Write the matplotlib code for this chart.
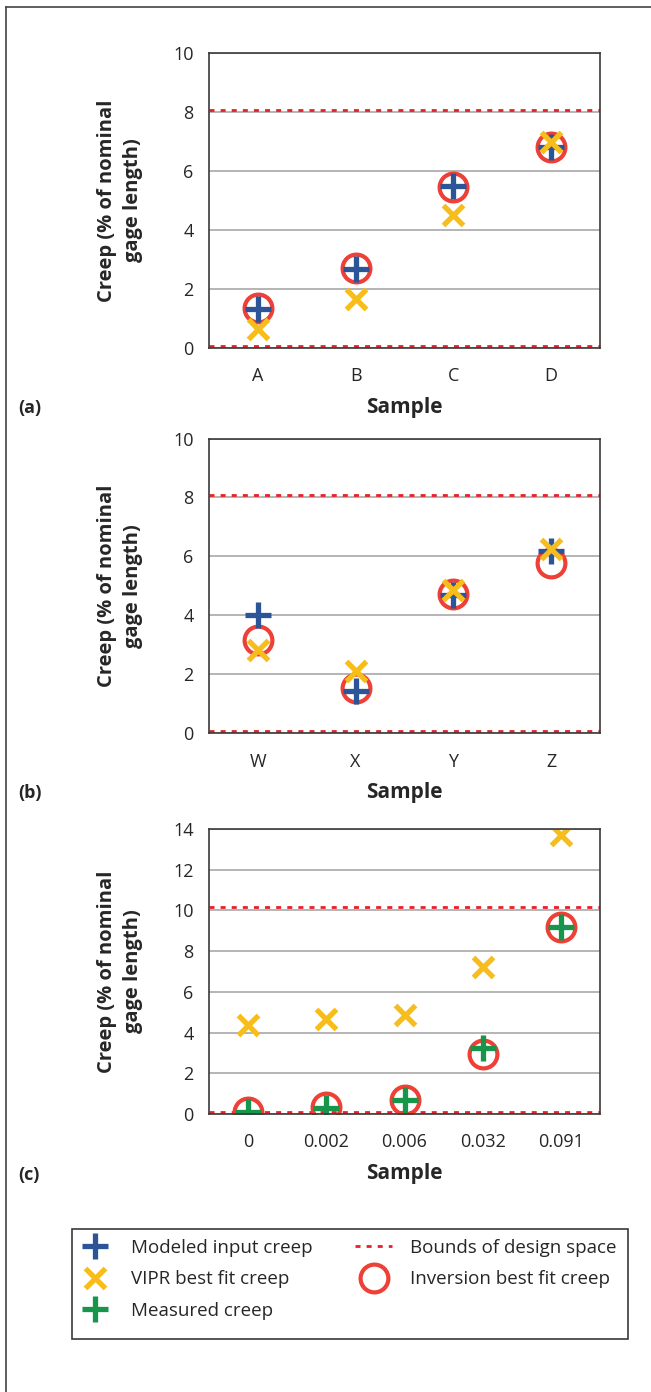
import matplotlib
matplotlib.use("Agg")
import matplotlib.pyplot as plt
from matplotlib.lines import Line2D
from matplotlib.patches import Rectangle

plt.rcParams['font.family'] = ['Open Sans', 'DejaVu Sans']

# ---------------- data ----------------
cats_a = ["A", "B", "C", "D"]
modeled_a = [1.33, 2.68, 5.48, 6.80]
vipr_a = [0.65, 1.67, 4.50, 7.00]
inversion_a = [1.36, 2.71, 5.46, 6.81]
bounds_a = [0.08, 8.08]

cats_b = ["W", "X", "Y", "Z"]
modeled_b = [4.00, 1.45, 4.70, 6.20]
vipr_b = [2.83, 2.12, 4.87, 6.26]
inversion_b = [3.15, 1.53, 4.73, 5.78]
bounds_b = [0.08, 8.08]

cats_c = ["0", "0.002", "0.006", "0.032", "0.091"]
measured_c = [0.10, 0.30, 0.70, 3.25, 9.20]
vipr_c = [4.39, 4.67, 4.87, 7.20, 13.69]
inversion_c = [0.11, 0.33, 0.69, 2.95, 9.20]
bounds_c = [0.08, 10.15]

# ---------------- styles ----------------
BLUE = '#2C5597'
YELLOW = '#F6BD1C'
GREEN = '#17954A'
RED_C = '#EE4036'
RED_D = '#E8202A'
GRID = '#A8A8A8'
TXT = '#262626'
SPINE = '#3A3A3A'

W, H = 651, 1392
fig = plt.figure(figsize=(W / 100, H / 100), dpi=100)

def add_axes(top_px, bottom_px):
    left, right = 209, 600
    return fig.add_axes([left / W, 1 - bottom_px / H, (right - left) / W, (bottom_px - top_px) / H])

circle_kw = dict(marker='o', ms=20, mfc='none', mec=RED_C, mew=3.0, ls='none', zorder=3)
plus_kw = dict(marker='+', ms=19, mew=3.8, ls='none', zorder=4)
x_kw = dict(marker='x', ms=15, mec=YELLOW, mew=3.8, ls='none', zorder=5)
dash_kw = dict(color=RED_D, lw=2.0, ls=(0, (1.8, 2.2)), zorder=2)

def style(ax, cats, ymax, axh_px, bounds):
    n = len(cats)
    ax.set_xlim(-0.5, n - 0.5)
    ax.set_ylim(0, ymax)
    ax.set_xticks(range(n))
    ax.set_xticklabels(cats)
    ax.set_yticks(range(0, ymax + 1, 2))
    ax.tick_params(axis='both', length=0, labelsize=13, colors=TXT)
    ax.tick_params(axis='y', pad=11)
    ax.tick_params(axis='x', pad=14)
    ax.grid(axis='y', color=GRID, lw=1.2, zorder=0)
    ax.set_axisbelow(True)
    for s in ax.spines.values():
        s.set_color(SPINE)
        s.set_linewidth(1.2)
        s.set_zorder(6)
    for b in bounds:
        ax.axhline(b, **dash_kw)
    ax.set_ylabel("Creep (% of nominal\ngage length)", fontsize=14.5, fontweight='bold',
                  color=TXT, linespacing=1.4)
    ax.yaxis.set_label_coords(-0.169, 0.5)
    ax.set_xlabel("Sample", fontsize=15, fontweight='bold', color=TXT, va='top')
    ax.xaxis.set_label_coords(0.5, -49 / axh_px)

# panel (a)
ax1 = add_axes(53, 348)
x = range(len(cats_a))
ax1.plot(x, inversion_a, **circle_kw)
ax1.plot(x, modeled_a, mec=BLUE, **plus_kw)
ax1.plot(x, vipr_a, **x_kw)
style(ax1, cats_a, 10, 295, bounds_a)

# panel (b)
ax2 = add_axes(438.5, 733.3)
x = range(len(cats_b))
ax2.plot(x, inversion_b, **circle_kw)
ax2.plot(x, modeled_b, mec=BLUE, **plus_kw)
ax2.plot(x, vipr_b, **x_kw)
style(ax2, cats_b, 10, 295, bounds_b)

# panel (c)
ax3 = add_axes(829, 1114)
x = range(len(cats_c))
ax3.plot(x, inversion_c, **circle_kw)
ax3.plot(x, measured_c, mec=GREEN, **plus_kw)
ax3.plot(x, vipr_c, **x_kw)
style(ax3, cats_c, 14, 285, bounds_c)

# panel letters
for lab, ypx in [("(a)", 408), ("(b)", 793), ("(c)", 1175)]:
    fig.text(18 / W, 1 - ypx / H, lab, fontsize=13, fontweight='bold', color=TXT,
             ha='left', va='center')

# legend
handles = [
    Line2D([], [], mec=BLUE, **plus_kw),
    Line2D([], [], **x_kw),
    Line2D([], [], mec=GREEN, **plus_kw),
    Line2D([], [], **dash_kw),
    Line2D([], [], **circle_kw),
]
labels = ["Modeled input creep", "VIPR best fit creep", "Measured creep",
          "Bounds of design space", "Inversion best fit creep"]
leg_top = 1235
leg = fig.legend(handles, labels, ncol=2, loc='upper left',
                 bbox_to_anchor=(72 / W, 1 - 1339 / H, (620 - 72) / W, (1339 - leg_top) / H),
                 mode='expand', fontsize=13.5, frameon=False,
                 handlelength=2.0, handletextpad=0.93,
                 borderpad=0.2, labelspacing=0.72, borderaxespad=0)
for t in leg.get_texts():
    t.set_color(TXT)
fig.add_artist(Rectangle((72 / W, 1 - 1339 / H), (628 - 72) / W, 110 / H,
                         transform=fig.transFigure, fill=False, edgecolor=SPINE, lw=1.2))

# outer frame (left and top edges)
fig.add_artist(Line2D([6 / W, 6 / W], [0, 1 - 7 / H], transform=fig.transFigure,
                      color='#444444', lw=1.2))
fig.add_artist(Line2D([6 / W, 1], [1 - 7 / H, 1 - 7 / H], transform=fig.transFigure,
                      color='#444444', lw=1.2))

fig.savefig("out.png", dpi=100, facecolor='white')
